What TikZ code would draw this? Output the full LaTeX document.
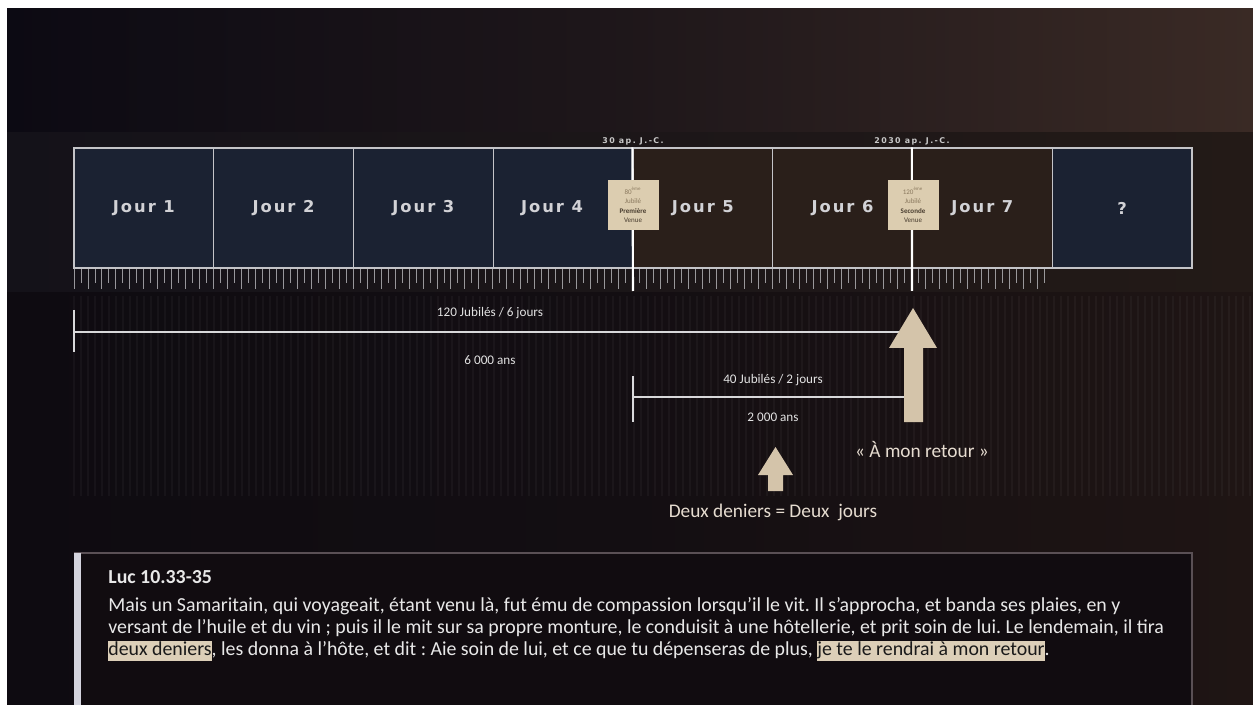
\documentclass[tikz,border=0pt]{standalone}
\usepackage{fontspec}
\setmainfont{Carlito}
\newfontfamily\dayfont[LetterSpace=12]{DejaVu Sans}
\newfontfamily\datefont[LetterSpace=18]{DejaVu Sans}
\usetikzlibrary{positioning}
\frenchspacing
\definecolor{topL}{HTML}{0C0A13}
\definecolor{topR}{HTML}{3A2A25}
\definecolor{bandL}{HTML}{141219}
\definecolor{bandR}{HTML}{231A17}
\definecolor{lowL}{HTML}{0E0B11}
\definecolor{lowR}{HTML}{1F1514}
\definecolor{navybox}{HTML}{1B2232}
\definecolor{brownbox}{HTML}{2A1F1A}
\definecolor{boxline}{HTML}{C4C4C8}
\definecolor{daytext}{HTML}{D2D2D6}
\definecolor{datetext}{HTML}{C8C8C8}
\definecolor{cardbg}{HTML}{DCCDB0}
\definecolor{cardtext}{HTML}{8A785E}
\definecolor{carddark}{HTML}{4A3E30}
\definecolor{spanline}{HTML}{D8D8DA}
\definecolor{spantext}{HTML}{E2E2E2}
\definecolor{arrowfill}{HTML}{D4C4AA}
\definecolor{quotetext}{HTML}{E6DCD0}
\definecolor{quotebg}{HTML}{110C10}
\definecolor{quoteline}{HTML}{5A5055}
\definecolor{barcol}{HTML}{D4D4DE}
\definecolor{bodytext}{HTML}{E8E8E8}
\definecolor{hlbeige}{HTML}{DCCFB8}
\definecolor{hltext}{HTML}{1A1A1A}
\newcommand{\hl}[1]{{\setlength{\fboxsep}{0pt}\colorbox{hlbeige}{\color{hltext}\rule[-3.6pt]{0pt}{10.6pt}#1}}}

\begin{document}
\begin{tikzpicture}[x=0.02cm, y=-0.02cm,
    daybox/.style={rectangle, draw=boxline, line width=0.8pt, minimum width=2.795cm, minimum height=2.4cm, inner sep=0pt, font=\dayfont\bfseries\fontsize{9.3}{11}\selectfont, text=daytext},
    bluebox/.style={daybox, fill=navybox},
    brownday/.style={daybox, fill=brownbox},
    daylab/.style={font=\dayfont\bfseries\fontsize{9.3}{11}\selectfont, text=daytext},
    card/.style={rectangle, fill=cardbg, minimum width=1.02cm, minimum height=1cm, inner sep=0pt, align=center, font=\fontsize{4}{5.4}\selectfont, text=cardtext},
    datelab/.style={font=\datefont\bfseries\fontsize{4.5}{5}\selectfont, text=datetext},
    markline/.style={draw=white, line width=1.2pt},
    tick/.style={draw=boxline, line width=0.5pt, opacity=0.75},
    span/.style={draw=spanline, line width=1.5pt},
    spanlab/.style={font=\fontsize{7.5}{9}\selectfont, text=spantext},
    quote/.style={font=\fontsize{11}{13}\selectfont, text=quotetext},
    body/.style={font=\fontsize{11.3}{13}\selectfont, text=bodytext, anchor=base west, inner sep=0pt}
]
    \useasboundingbox (0,0) rectangle (1253,705);
    \fill[white] (0,0) rectangle (1253,705);
    \shade[left color=topL, right color=topR, middle color=topL!60!topR] (7,9) rectangle (1253,133);
    \shade[left color=bandL, right color=bandR] (7,133) rectangle (1253,293);
    \shade[left color=lowL, right color=lowR, middle color=lowL!70!lowR] (7,293) rectangle (1253,705);
    \foreach \i in {0,...,168} {
        \draw[white, opacity=0.035, line width=1pt] (74+\i*7,296) -- ++(0,200);
    }

    \node[bluebox] (jour1) at (143.9,208) {Jour 1};
    \node[bluebox] (jour2) at (283.6,208) {Jour 2};
    \node[bluebox] (jour3) at (423.4,208) {Jour 3};
    \node[bluebox] (jour4) at (563.1,208) {};
    \node[brownday] (jour5) at (702.9,208) {Jour 5};
    \node[brownday] (jour6) at (842.6,208) {Jour 6};
    \node[brownday] (jour7) at (982.4,208) {Jour 7};
    \node[bluebox] (jour8) at (1122.1,208) {?};
    \node[daylab] (lab4) at (552,208) {Jour 4};

    \foreach \i in {0,...,69} {
        \draw[tick] (74+\i*13.96,268) -- ++(0,21);
        \draw[tick] (81+\i*13.96,268) -- ++(0,15);
    }

    \node[datelab] (d1) at (633,141) {30 ap. J.-C.};
    \node[datelab] (d2) at (912,141) {2030 ap. J.-C.};
    \coordinate (m1) at (633,291);
    \coordinate (m2) at (912,291);
    \draw[markline] (jour5.north west) -- (m1);
    \draw[markline] (jour7.north west) -- (m2);

    \node[card] (venue1) at (633,205) {80\textsuperscript{ème}\\Jubilé\\{\color{carddark}\bfseries Première}\\{\color{carddark}Venue}};
    \node[card] (venue2) at (913,205) {120\textsuperscript{ème}\\Jubilé\\{\color{carddark}\bfseries Seconde}\\{\color{carddark}Venue}};

    \coordinate (s1a) at (74,332);
    \coordinate (s1b) at (913,332);
    \coordinate (s1t) at (74,310);
    \coordinate (s1u) at (74,352);
    \draw[span] (s1a) -- (s1b);
    \draw[span] (s1t) -- (s1u);
    \node[spanlab] (j120) at (490,313) {120 Jubilés / 6 jours};
    \node[spanlab] (a6000) at (490,360) {6 000 ans};

    \coordinate (s2a) at (633,397);
    \coordinate (s2b) at (913,397);
    \coordinate (s2t) at (633,376);
    \coordinate (s2u) at (633,422);
    \draw[span] (s2a) -- (s2b);
    \draw[span] (s2t) -- (s2u);
    \node[spanlab] (j40) at (773,380) {40 Jubilés / 2 jours};
    \node[spanlab] (a2000) at (773,417) {2 000 ans};

    \fill[arrowfill] (913,308) -- (937,348) -- (923,348) -- (923,422) -- (904,422) -- (904,348) -- (889,348) -- cycle;
    \node[quote] (retour) at (922,450) {« À mon retour »};

    \fill[arrowfill] (775.5,447) -- (793,475) -- (783,475) -- (783,491) -- (768,491) -- (768,475) -- (758,475) -- cycle;
    \node[quote] (deniers) at (773,512) {Deux deniers = Deux\ \ jours};

    \fill[quotebg] (74,553) rectangle (1192,705);
    \draw[quoteline, line width=0.8pt] (74,553) -- (1192,553) -- (1192,705);
    \fill[barcol] (74,553) rectangle (81,705);

    \node[body, font=\fontsize{11.3}{13}\selectfont\bfseries] (titre) at (108,583) {Luc 10.33-35};
    \node[body] (l1) at (108,611) {Mais un Samaritain, qui voyageait, étant venu là, fut ému de compassion lorsqu’il le vit. Il s’approcha, et banda ses plaies, en y};
    \node[body] (l2) at (108,633) {versant de l’huile et du vin ; puis il le mit sur sa propre monture, le conduisit à une hôtellerie, et prit soin de lui. Le lendemain, il tira};
    \node[body] (l3) at (108,655) {\hl{deux deniers}, les donna à l’hôte, et dit : Aie soin de lui, et ce que tu dépenseras de plus, \hl{je te le rendrai à mon retour}.};
\end{tikzpicture}
\end{document}
